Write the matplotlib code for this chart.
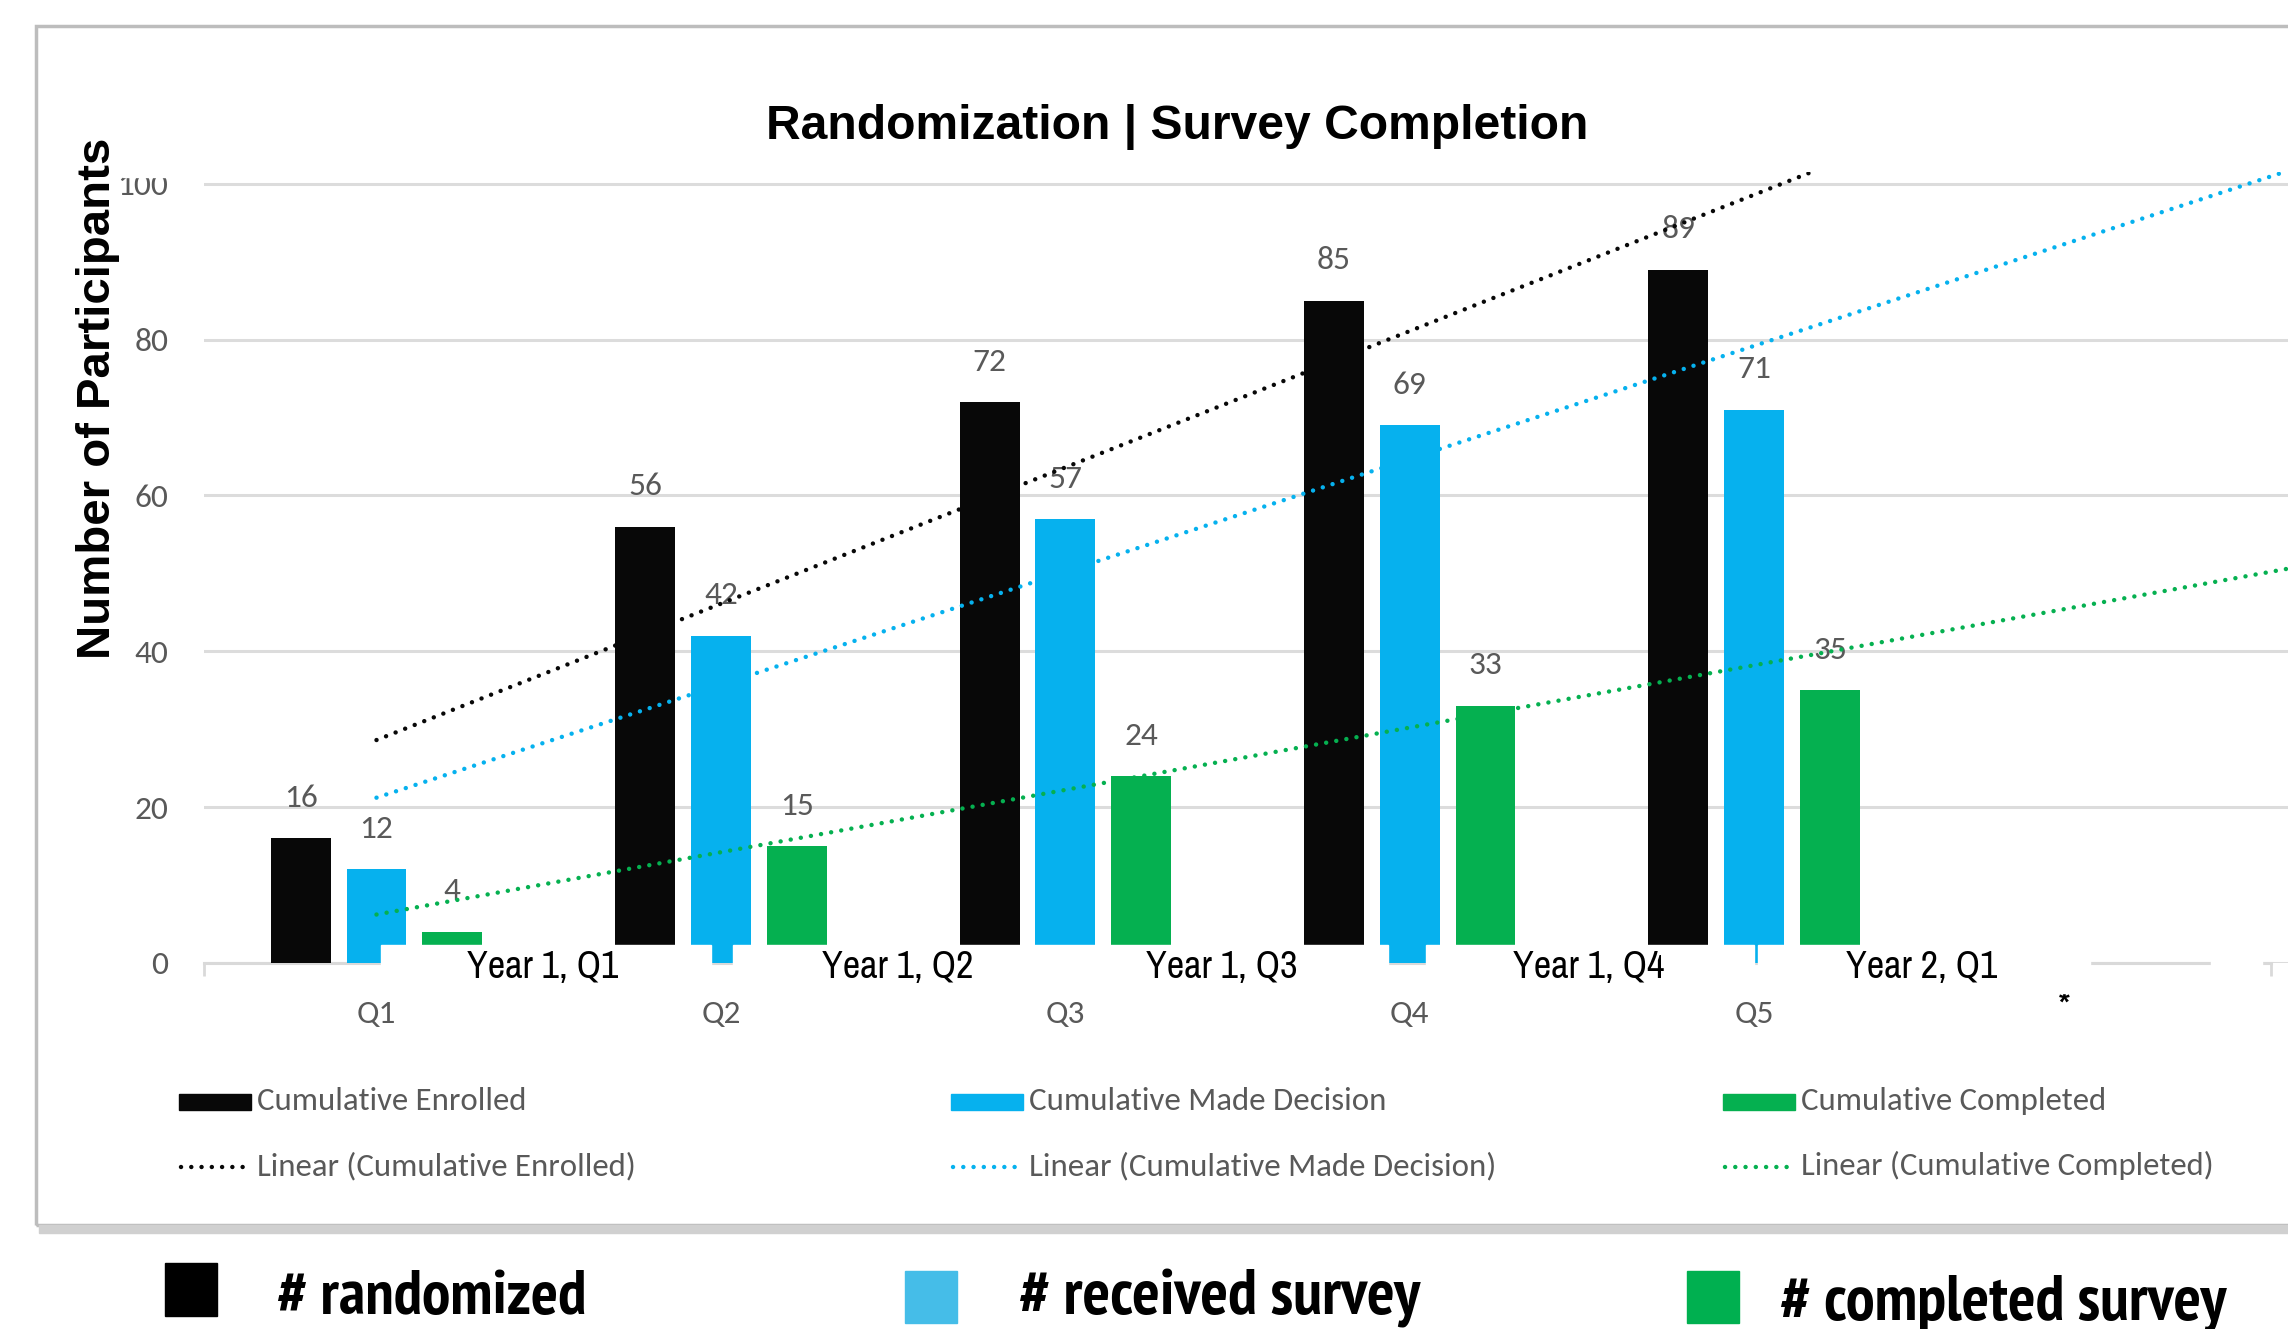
import numpy as np
import matplotlib
matplotlib.use("Agg")
import matplotlib.pyplot as plt
from matplotlib import font_manager
from matplotlib.patches import Rectangle
from matplotlib.lines import Line2D

# data
quarters = ["Q1", "Q2", "Q3", "Q4", "Q5", ""]
enrolled = [16, 56, 72, 85, 89]
made_decision = [12, 42, 57, 69, 71]
completed = [4, 15, 24, 33, 35]
series_names = ["Cumulative Enrolled", "Cumulative Made Decision", "Cumulative Completed"]
year_labels = ["Year 1, Q1", "Year 1, Q2", "Year 1, Q3", "Year 1, Q4", "Year 2, Q1"]
bottom_labels = ["# randomized", "# received survey", "# completed survey"]
y_ticks = [0, 20, 40, 60, 80, 100]

BLACK = "#080808"
BLUE = "#06B1EE"
GREEN = "#05B050"
GRAY_TXT = "#595959"

weights = {}
for f in font_manager.fontManager.ttflist:
    w = f.weight if isinstance(f.weight, int) else 400
    if f.style == "normal":
        weights.setdefault(f.name, set()).add(w)

NARROW_CANDS = ["Liberation Sans Narrow", "Arial Narrow", "Archivo Narrow", "PT Sans Narrow",
                "Pragati Narrow", "Roboto Condensed", "Fira Sans Condensed",
                "IBM Plex Sans Condensed", "Encode Sans Condensed", "Open Sans Condensed"]


def pick(cands, default, bold=False):
    for c in cands:
        if c in weights and (not bold or any(w >= 700 for w in weights[c])):
            return [c, "DejaVu Sans"]
    return [default, "DejaVu Sans"]


NARROW = pick(NARROW_CANDS, "Liberation Sans")
NARROW_BOLD = pick(NARROW_CANDS, "Liberation Sans", bold=True)
CALIBRI = pick(["Carlito", "Calibri"], NARROW[0])
ARIAL = ["Liberation Sans", "DejaVu Sans"]

W, H = 1568, 911  # layout measured on the shrunk reference
SCALE = 2288 / W
DOTS = (0, (0.01, 2.3))


def fx(x):
    return x / W


def fy(y):
    return 1 - y / H


fig = plt.figure(figsize=(22.88, 13.29), dpi=100)
renderer = fig.canvas.get_renderer()


def fit(t, target, vertical=False):
    # scale a text so it spans the same number of pixels as in the reference
    bb = t.get_window_extent(renderer)
    size = bb.height if vertical else bb.width
    t.set_fontsize(t.get_fontsize() * target * SCALE / size)
    return t


# chart frame (Excel chart area)
fig.patches.append(Rectangle((fx(25), fy(840)), fx(1600) - fx(25), fy(18) - fy(840),
                             transform=fig.transFigure, fill=False, edgecolor="#BDBDBD",
                             linewidth=2.5, zorder=0))
fig.patches.append(Rectangle((fx(27), fy(845)), fx(1600) - fx(27), fy(840) - fy(845),
                             transform=fig.transFigure, color="#D0D0D0", zorder=0))

ax = fig.add_axes([fx(140), fy(660), 1 - fx(140), fy(118) - fy(660)])
ax.set_xlim(0.5, 6.55)
ax.set_ylim(0, 101.5)

x = np.arange(1, len(enrolled) + 1)
width = 0.174
pitch = 0.22
colors = [BLACK, BLUE, GREEN]
for i, (vals, col) in enumerate(zip([enrolled, made_decision, completed], colors)):
    xs = x + (i - 1) * pitch
    ax.bar(xs, vals, width=width, color=col, zorder=3)
    for xv, v in zip(xs, vals):
        ax.annotate(str(v), (xv, v), xytext=(0, 29), textcoords="offset points",
                    ha="center", va="center", fontsize=24, color=GRAY_TXT,
                    family=CALIBRI, zorder=4)

# linear trendlines with forward forecast to the edge of the plot
xt = np.linspace(1, 6.55, 50)
for vals, col in zip([enrolled, made_decision, completed], colors):
    k, b = np.polyfit(x, vals, 1)
    ax.plot(xt, k * xt + b, color=col, linestyle=DOTS, linewidth=3.2,
            dash_capstyle="round", zorder=5)

ax.set_yticks(y_ticks)
ax.set_yticklabels([str(t) for t in y_ticks], family=CALIBRI, fontsize=24, color=GRAY_TXT)
ax.set_xticks(np.arange(1, len(quarters) + 1))
ax.set_xticklabels(quarters, family=CALIBRI, fontsize=24, color=GRAY_TXT)
ax.tick_params(axis="y", length=0, pad=26)
ax.tick_params(axis="x", which="major", length=0, pad=27)
ax.set_xticks(np.arange(0.5, 7, 1), minor=True)
ax.tick_params(axis="x", which="minor", length=9, width=2, color="#D9D9D9")
ax.grid(axis="y", color="#DCDCDC", linewidth=2.2, zorder=0)
ax.set_axisbelow(True)
for s in ["top", "right", "left"]:
    ax.spines[s].set_visible(False)
ax.spines["bottom"].set_color("#D9D9D9")
ax.spines["bottom"].set_linewidth(2.2)
ax.spines["bottom"].set_bounds(0.5, 6.5)
ax.patch.set_alpha(0)

fig.text(fx(1415), fy(688), "*", ha="center", va="center", fontsize=20,
         fontweight="bold", family=ARIAL)

t = fig.text(fx(807), fy(87), "Randomization | Survey Completion", ha="center", va="center",
             fontsize=31, fontweight="bold", family=ARIAL)
fit(t, 561)
t = fig.text(fx(67), fy(273), "Number of Participants", ha="center", va="center",
             rotation=90, fontsize=29, fontweight="bold", family=ARIAL)
fit(t, 357, vertical=True)

# white overlay boxes that carry the year labels
boxes = [(261, 487), (502, 951), (977, 1202), (1205, 1432), (1515, 1550)]
for x0, x1 in boxes:
    fig.patches.append(Rectangle((fx(x0), fy(681)), fx(x1) - fx(x0), fy(648) - fy(681),
                                 transform=fig.transFigure, color="white", zorder=6))
# the top of the "100" tick label is hidden in the reference
fig.patches.append(Rectangle((fx(84), fy(121)), fx(128) - fx(84), fy(100) - fy(121),
                             transform=fig.transFigure, color="white", zorder=6))
year_x = [372, 615, 837, 1089, 1317]
for xp, lab in zip(year_x, year_labels):
    t = fig.text(fx(xp), fy(663), lab, ha="center", va="center", fontsize=25,
                 family=NARROW, color="black", zorder=7)
    fit(t, 104)

# Excel legend
leg_x = [123, 652, 1181]
leg_w1 = [184, 245, 209]
leg_w2 = [259, 320, 283]
for lx, name, col, w1, w2 in zip(leg_x, series_names, colors, leg_w1, leg_w2):
    fig.patches.append(Rectangle((fx(lx), fy(761)), fx(49), fy(750) - fy(761),
                                 transform=fig.transFigure, color=col, zorder=3))
    t = fig.text(fx(lx + 53), fy(755), name, ha="left", va="center", fontsize=23,
                 family=CALIBRI, color=GRAY_TXT)
    fit(t, w1)
    fig.lines.append(Line2D([fx(lx + 1), fx(lx + 47)], [fy(800), fy(800)],
                            transform=fig.transFigure, color=col, linestyle=DOTS,
                            linewidth=3.2, dash_capstyle="round"))
    t = fig.text(fx(lx + 53), fy(799), "Linear (" + name + ")", ha="left", va="center",
                 fontsize=23, family=CALIBRI, color=GRAY_TXT)
    fit(t, w2)

# bottom legend of the slide
sq_colors = ["#000000", "#45BDE8", "#00B050"]
sq_pos = [(113, 866), (620, 871), (1156, 871)]
txt_pos = [(190, 890), (698, 890), (1220, 894)]
txt_w = [212, 275, 306]
for (sx, sy), (tx, ty), lab, col, tw in zip(sq_pos, txt_pos, bottom_labels, sq_colors, txt_w):
    fig.patches.append(Rectangle((fx(sx), fy(sy + 36)), fx(36), fy(sy) - fy(sy + 36),
                                 transform=fig.transFigure, color=col))
    t = fig.text(fx(tx), fy(ty), lab, ha="left", va="center", fontsize=38, fontweight="bold",
                 family=NARROW_BOLD, color="black")
    fit(t, tw)

fig.savefig("out.png", dpi=100, facecolor="white")
